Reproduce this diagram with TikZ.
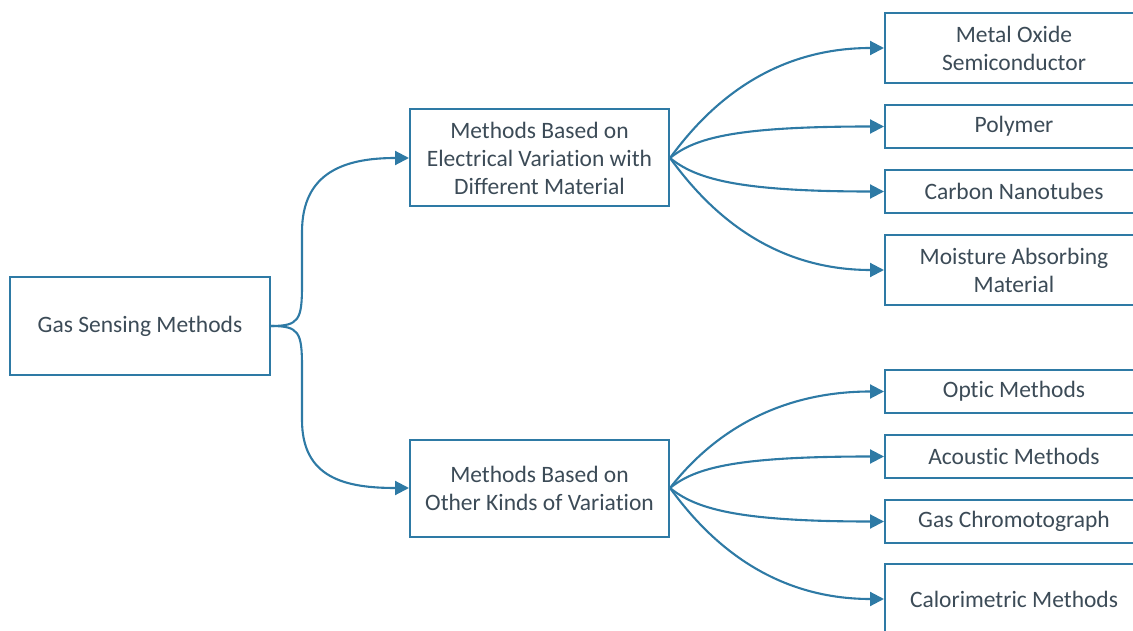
\documentclass[tikz,border=0pt]{standalone}
\usepackage{fontspec}
\setmainfont{Carlito}[Ligatures=CommonOff]
\usetikzlibrary{arrows.meta}
\definecolor{ln}{HTML}{2E7AA5}
\definecolor{tx}{HTML}{3C4B57}
\begin{document}
\begin{tikzpicture}[x=1pt,y=-1pt,
  box/.style={draw=ln,line width=2pt,fill=white,text=tx,align=center,
    inner sep=0pt,font=\fontsize{23.5}{28}\selectfont},
  rbox/.style={box,minimum width=258pt},
  conn/.style={draw=ln,line width=2.1pt,-{Triangle[length=14pt,width=14pt]}}]
\useasboundingbox (0,0) rectangle (1133,631);
% nodes
\node[box,minimum width=260pt,minimum height=97pt] (gas) at (140,326) {Gas Sensing Methods};
\node[box,minimum width=259pt,minimum height=97pt] (ele) at (539.5,158) {Methods Based on\\Electrical Variation with\\Different Material};
\node[box,minimum width=259pt,minimum height=97pt] (oth) at (539.5,488) {Methods Based on\\Other Kinds of Variation};
\node[rbox,minimum height=70pt] (mos) at (1014,48) {Metal Oxide\\Semiconductor};
\node[rbox,minimum height=43pt] (pol) at (1014,126.5) {Polymer};
\node[rbox,minimum height=43pt] (cnt) at (1014,191.5) {Carbon Nanotubes};
\node[rbox,minimum height=70pt] (moi) at (1014,270) {Moisture Absorbing\\Material};
\node[rbox,minimum height=43pt] (opt) at (1014,391.5) {Optic Methods};
\node[rbox,minimum height=43pt] (aco) at (1014,456.5) {Acoustic Methods};
\node[rbox,minimum height=43pt] (gch) at (1014,521.5) {Gas Chromotograph};
\node[rbox,minimum height=70pt] (cal) at (1014,599) {Calorimetric Methods};
% left connectors
\draw[conn] (gas.east) .. controls +(28,0) and +(0,35) .. (302,285) -- (302,232)
  .. controls (302,172) and (345,158) .. (ele.west);
\draw[conn] (gas.east) .. controls +(28,0) and +(0,-35) .. (302,367) -- (302,420)
  .. controls (302,478) and (345,488) .. (oth.west);
% upper fan
\draw[conn] (ele.east) .. controls +(28,-38) and +(-125,0) .. (mos.west);
\draw[conn] (ele.east) .. controls +(25,-20) and +(-150,0) .. (pol.west);
\draw[conn] (ele.east) .. controls +(25,20) and +(-150,0) .. (cnt.west);
\draw[conn] (ele.east) .. controls +(28,38) and +(-125,0) .. (moi.west);
% lower fan
\draw[conn] (oth.east) .. controls +(28,-36) and +(-125,0) .. (opt.west);
\draw[conn] (oth.east) .. controls +(25,-20) and +(-150,0) .. (aco.west);
\draw[conn] (oth.east) .. controls +(25,20) and +(-150,0) .. (gch.west);
\draw[conn] (oth.east) .. controls +(28,38) and +(-125,0) .. (cal.west);
\end{tikzpicture}
\end{document}
